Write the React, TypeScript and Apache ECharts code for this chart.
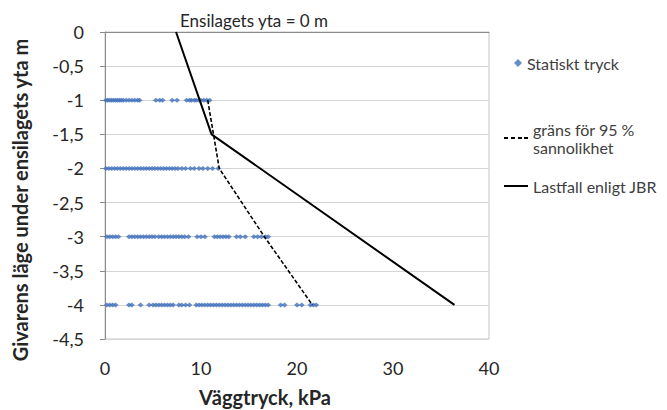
import React, { useEffect, useRef } from "react";
import * as echarts from "echarts";

// Depth levels of the pressure sensors (m below silage surface)
const DEPTHS = [-1, -2, -3, -4];

// Measured wall pressure (kPa) at each depth
const PRESSURE_1M = [0.1, 0.3, 0.5, 0.7, 0.9, 1.1, 1.3, 1.5, 1.7, 1.9, 2.2, 2.5, 2.8, 3.1, 3.4, 3.6, 5.3, 5.7, 6.0, 7.0, 7.5, 8.5, 8.8, 9.0, 9.3, 9.5, 9.8, 10.0, 10.3, 10.6, 10.9];
const PRESSURE_2M = [0.1, 0.4, 0.7, 1.0, 1.3, 1.6, 1.9, 2.2, 2.5, 2.8, 3.1, 3.4, 3.7, 4.0, 4.3, 4.6, 4.9, 5.2, 5.5, 5.8, 6.1, 6.4, 6.7, 7.0, 7.3, 7.6, 8.0, 8.4, 8.9, 9.3, 9.8, 10.2, 10.7, 11.2, 11.8];
const PRESSURE_3M = [0.2, 0.5, 0.8, 1.1, 1.4, 2.5, 2.8, 3.1, 3.4, 3.7, 4.0, 4.3, 4.6, 4.9, 5.2, 5.6, 5.9, 6.2, 6.5, 6.8, 7.1, 7.4, 7.7, 8.0, 8.3, 8.7, 9.6, 10.0, 10.4, 11.4, 11.7, 12.0, 12.3, 12.6, 12.9, 13.7, 14.1, 14.6, 15.5, 15.9, 16.3, 16.7, 17.0];
const PRESSURE_4M = [0.2, 0.5, 0.8, 1.1, 2.5, 2.8, 3.7, 4.6, 5.0, 5.3, 5.6, 5.9, 6.2, 6.5, 6.8, 7.1, 7.7, 8.0, 8.4, 8.8, 9.5, 9.8, 10.1, 10.4, 10.7, 11.0, 11.3, 11.6, 11.9, 12.2, 12.5, 12.8, 13.1, 13.4, 13.7, 14.0, 14.3, 14.6, 14.9, 15.2, 15.5, 15.8, 16.1, 16.4, 16.7, 17.0, 18.3, 18.7, 20.0, 20.5, 21.4, 21.7, 22.0];
const PRESSURE_ROWS = [PRESSURE_1M, PRESSURE_2M, PRESSURE_3M, PRESSURE_4M];

// 95 % probability limit
const LIMIT_PRESSURE = [10.7, 11.9, 16.6, 21.6];
const LIMIT_DEPTH = [-1, -2, -3, -4];

// Load case according to JBR
const JBR_PRESSURE = [7.4, 11.1, 36.4];
const JBR_DEPTH = [0, -1.5, -4];

const FONT = "Lato, 'Open Sans', sans-serif";
const TEXT = "#262626";

const SOLID_ICON = "path://M0,0H24V2H0Z";
const DASHED_ICON = "path://M0,0H4V2H0Z M7,0H11V2H7Z M14,0H18V2H14Z M20,0H24V2H20Z";

export default function App() {
  const ref = useRef<HTMLDivElement>(null);

  useEffect(() => {
    if (!ref.current) return;
    const chart = echarts.init(ref.current, undefined, { renderer: "svg" });

    const scatterData = DEPTHS.flatMap((d, i) => PRESSURE_ROWS[i].map((x) => [x, d]));
    const limitData = LIMIT_PRESSURE.map((x, i) => [x, LIMIT_DEPTH[i]]);
    const jbrData = JBR_PRESSURE.map((x, i) => [x, JBR_DEPTH[i]]);

    const legendText = { fontSize: 16, color: "#404040", fontFamily: FONT };

    chart.setOption({
      animation: false,
      backgroundColor: "#ffffff",
      textStyle: { fontFamily: FONT },
      grid: {
        left: 105,
        right: 178,
        top: 32,
        bottom: 71,
        show: true,
        borderColor: "#c4c4c4",
        borderWidth: 1,
      },
      xAxis: [
        {
          type: "value",
          min: 0,
          max: 40,
          interval: 10,
          position: "bottom",
          axisLine: { show: false, onZero: false },
          axisTick: { show: false },
          splitLine: { show: false },
          axisLabel: { margin: 20, fontSize: 18, color: TEXT, fontFamily: FONT },
        },
        {
          type: "value",
          min: 0,
          max: 40,
          interval: 10,
          position: "top",
          axisLine: { show: true, onZero: false, lineStyle: { color: "#8c8c8c", width: 1 } },
          axisTick: { show: false },
          splitLine: { show: false },
          axisLabel: { show: false },
        },
      ],
      yAxis: {
        type: "value",
        min: -4.5,
        max: 0,
        interval: 0.5,
        axisLine: { show: true, onZero: false, lineStyle: { color: "#8c8c8c" } },
        axisTick: { show: true, length: 5, lineStyle: { color: "#8c8c8c" } },
        splitLine: { show: true, lineStyle: { color: "#d6d6d6", width: 1 } },
        axisLabel: {
          margin: 21,
          fontSize: 18,
          color: TEXT,
          fontFamily: FONT,
          formatter: (v: number) => String(v).replace(".", ","),
        },
      },
      legend: [
        {
          data: ["Statiskt tryck"],
          orient: "vertical",
          left: 514,
          top: 55,
          padding: 0,
          itemWidth: 8,
          itemHeight: 8,
          itemGap: 0,
          textStyle: legendText,
        },
        {
          data: [{ name: "gräns för 95 %\nsannolikhet", icon: DASHED_ICON }],
          orient: "vertical",
          left: 504,
          top: 120,
          padding: 0,
          itemWidth: 24,
          itemHeight: 2,
          textStyle: { ...legendText, lineHeight: 18 },
        },
        {
          data: [{ name: "Lastfall enligt JBR", icon: SOLID_ICON }],
          orient: "vertical",
          left: 504,
          top: 178,
          padding: 0,
          itemWidth: 24,
          itemHeight: 2,
          textStyle: legendText,
        },
      ],
      graphic: [
        {
          type: "text",
          left: 180,
          top: 12,
          style: { text: "Ensilagets yta = 0 m", font: `17px ${FONT}`, fill: TEXT },
        },
        {
          type: "text",
          x: 20,
          y: 200,
          rotation: Math.PI / 2,
          style: {
            text: "Givarens läge under ensilagets yta m",
            font: `bold 20px ${FONT}`,
            fill: TEXT,
            align: "center",
            verticalAlign: "middle",
            textAlign: "center",
            textVerticalAlign: "middle",
          },
        },
        {
          type: "text",
          x: 265,
          y: 397,
          style: {
            text: "Väggtryck, kPa",
            font: `bold 20px ${FONT}`,
            fill: TEXT,
            align: "center",
            verticalAlign: "middle",
            textAlign: "center",
            textVerticalAlign: "middle",
          },
        },
      ],
      series: [
        {
          name: "Statiskt tryck",
          type: "scatter",
          data: scatterData,
          symbol: "diamond",
          symbolSize: [6, 5],
          itemStyle: { color: "#4272bd" },
          z: 3,
        },
        {
          name: "gräns för 95 %\nsannolikhet",
          type: "line",
          data: limitData,
          symbol: "none",
          lineStyle: { color: "#000000", width: 1.6, type: [4, 2] },
          itemStyle: { color: "#000000" },
          z: 4,
        },
        {
          name: "Lastfall enligt JBR",
          type: "line",
          data: jbrData,
          symbol: "none",
          lineStyle: { color: "#000000", width: 2 },
          itemStyle: { color: "#000000" },
          z: 5,
        },
      ],
    });

    return () => chart.dispose();
  }, []);

  return (
    <div
      ref={ref}
      style={{ position: "fixed", left: 0, top: 0, width: 667, height: 410, background: "#fff" }}
    />
  );
}
